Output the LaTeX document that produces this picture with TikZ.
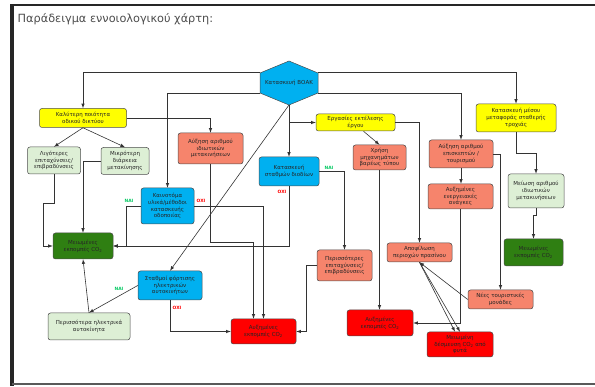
\documentclass[tikz,border=0pt]{standalone}
\usepackage{fontspec}
\setmainfont{DejaVu Sans}
\usepackage{tikz}
\usetikzlibrary{shapes}

\definecolor{kitrino}{HTML}{FFFF00}
\definecolor{anoixto}{HTML}{DDEFD5}
\definecolor{solomos}{HTML}{F6846C}
\definecolor{kokkino}{HTML}{FF0000}
\definecolor{skouro}{HTML}{2F7F12}
\definecolor{galazio}{HTML}{00B0F0}
\definecolor{naicol}{HTML}{00C860}

\begin{document}
\begin{tikzpicture}[x=1pt,y=-1pt,>=latex]
		\tikzstyle{every node}+=[inner sep=0.5pt, align=center, text=black!85, font=\fontsize{5.5}{6.8}\selectfont]
		\tikzstyle{box}=[draw=black!70, line width=0.5pt, rounded corners=2.5pt]
		\tikzstyle{yel}=[box, fill=kitrino]
		\tikzstyle{lgreen}=[box, fill=anoixto]
		\tikzstyle{salmon}=[box, fill=solomos]
		\tikzstyle{red}=[box, fill=kokkino]
		\tikzstyle{dgreen}=[box, fill=skouro]
		\tikzstyle{blue}=[box, fill=galazio]
		\tikzstyle{conn}=[->, draw=black!80, line width=0.6pt]
		\tikzstyle{nai}=[text=naicol, font=\fontsize{4.4}{5}\selectfont\bfseries]
		\tikzstyle{oxi}=[text=kokkino, font=\fontsize{4.4}{5}\selectfont\bfseries]
		\useasboundingbox (0,0) rectangle (595,387);
		\draw [black!85, line width=4pt] (12,386) -- (12,5);
		\draw [black!85, line width=2.5pt] (10,5) -- (595,5);
		\draw [black!65, line width=2pt] (12,384.5) -- (595,384.5);
		\node [anchor=west, text=black!70, font=\fontsize{11.3}{13}\selectfont] (title) at (17,19) {Παράδειγμα εννοιολογικού χάρτη:};
		\draw [draw=black!70, line width=0.5pt, fill=galazio] (260,73) -- (289,61) -- (318,73) -- (318,93) -- (289,105) -- (260,93) -- cycle;
		\node [minimum width=58pt, minimum height=20pt] (boac) at (289,83) {Κατασκευή ΒΟΑΚ};
		\coordinate (boacbot) at (289,105);
		\node [yel, minimum width=87pt, minimum height=19pt] (kal) at (83,118) {Καλύτερη ποιότητα\\οδικού δικτύου};
		\node [lgreen, minimum width=53pt, minimum height=27pt] (ligo) at (54,160.5) {Λιγότερες\\επιταχύνσεις/\\επιβραδύνσεις};
		\node [lgreen, minimum width=48pt, minimum height=27pt] (mikr) at (125,161) {Μικρότερη\\διάρκεια\\μετακίνησης};
		\node [salmon, minimum width=65pt, minimum height=31pt] (idiot) at (210.5,148.5) {Αύξηση αριθμού\\ιδιωτικών\\μετακινήσεων};
		\node [blue, minimum width=53pt, minimum height=36pt] (kain) at (167.5,206) {Καινοτόμα\\υλικά/μέθοδοι\\κατασκευής\\οδοποιίας};
		\node [dgreen, minimum width=60pt, minimum height=26pt] (meiL) at (83,246) {Μειωμένες\\εκπομπές CO\textsubscript{2}};
		\node [blue, minimum width=60pt, minimum height=29pt] (diod) at (289,171.5) {Κατασκευή\\σταθμών διοδίων};
		\node [yel, minimum width=79pt, minimum height=17pt] (erg) at (355.5,122.5) {Εργασίες εκτέλεσης\\έργου};
		\node [salmon, minimum width=53pt, minimum height=25pt] (xrisi) at (379.5,157.5) {Χρήση\\μηχανημάτων\\βαρέως τύπου};
		\node [salmon, minimum width=64pt, minimum height=28pt] (episk) at (461,154) {Αύξηση αριθμού\\επισκεπτών /\\τουρισμού};
		\node [yel, minimum width=80pt, minimum height=28pt] (mesou) at (516,118) {Κατασκευή μέσου\\μεταφοράς σταθερής\\τροχιάς};
		\node [lgreen, minimum width=56pt, minimum height=34pt] (meiosi) at (536,191) {Μείωση αριθμού\\ιδιωτικών\\μετακινήσεων};
		\node [salmon, minimum width=65pt, minimum height=25pt] (energ) at (460.5,196.5) {Αυξημένες\\ενεργειακές\\ανάγκες};
		\node [dgreen, minimum width=59pt, minimum height=27pt] (meiR) at (533.5,252.5) {Μειωμένες\\εκπομπές CO\textsubscript{2}};
		\node [salmon, minimum width=65pt, minimum height=19pt] (apops) at (419.5,252.5) {Αποψίλωση\\περιοχών πρασίνου};
		\node [salmon, minimum width=55pt, minimum height=31pt] (peris) at (344.5,265.5) {Περισσότερες\\επιταχύνσεις/\\επιβραδύνσεις};
		\node [salmon, minimum width=65pt, minimum height=19pt] (nees) at (500.5,299.5) {Νέες τουριστικές\\μονάδες};
		\node [red, minimum width=66pt, minimum height=26pt] (auxR) at (380,323) {Αυξημένες\\εκπομπές CO\textsubscript{2}};
		\node [red, minimum width=66pt, minimum height=25pt] (desm) at (460,344.5) {Μειωμένη\\δέσμευση CO\textsubscript{2} από\\φυτά};
		\node [red, minimum width=65pt, minimum height=25pt] (auxC) at (263.5,331.5) {Αυξημένες\\εκπομπές CO\textsubscript{2}};
		\node [blue, minimum width=64pt, minimum height=29pt] (fort) at (170,285.5) {Σταθμοί φόρτισης\\ηλεκτρικών\\αυτοκινήτων};
		\node [lgreen, minimum width=82pt, minimum height=27pt] (ilek) at (89,326.5) {Περισσότερα ηλεκτρικά\\αυτοκίνητα};
		\draw [conn] (boac.north west) -| (kal);
		\draw [conn] (boac.south west) -| (kain);
		\draw [conn] (boac.north east) -| (mesou);
		\draw [conn] (boac.south east) -| (episk);
		\draw [conn] (boacbot) -- (diod);
		\draw [conn] (boacbot) |- (erg);
		\draw [conn] (boacbot) -- (fort.north);
		\draw [conn] (kal.south) -- (ligo.north);
		\draw [conn] (kal.south) -- (mikr.north);
		\draw [conn] (kal.east) -| (idiot);
		\draw [conn] (ligo.south) -- ++(0,29) -- ++(-11,0) |- (meiL.west);
		\draw [conn] (mikr.west) -| (meiL.north);
		\draw [conn] (kain.west) -- ++(-14,0) |- (meiL.east);
		\draw [conn] (kain.east) -| (auxC.north);
		\draw [conn] (idiot.south) -- ++(0,78) -| ([xshift=-10pt]auxC.north);
		\draw [conn] (diod.south) |- (meiL.east);
		\draw [conn] (diod.east) -| (peris.north);
		\draw [conn] ([xshift=8pt]erg.south) -- (xrisi.north);
		\draw [conn] (erg.east) -| (apops.north);
		\draw [conn] (xrisi.south) -- (xrisi.south |- auxR.north);
		\draw [conn] (episk.south) -- (episk.south |- energ.north);
		\draw [conn] (episk.east) -| (nees.north);
		\draw [conn] (energ.south) |- (auxR.east);
		\draw [conn] (mesou.south) -- ++(0,21) -| (meiosi.north);
		\draw [conn] (meiosi.south) -- ++(0,7) -| (meiR.north);
		\draw [conn] (peris.west) -- ++(-10,0) |- (auxC.east);
		\draw [conn] (fort.west) -- (ilek.north);
		\draw [conn] (fort.south) |- (auxC.west);
		\draw [conn] (ilek.north) -- (meiL.south);
		\draw [conn] (nees.west) -- (apops.south);
		\draw [conn] (apops.south) -- ([xshift=-5pt]desm.north);
		\draw [conn] (apops.south) -- (desm.north);
		\node [nai] (naikain) at (129,201) {ΝΑΙ};
		\node [oxi] (oxikain) at (201,201) {ΟΧΙ};
		\node [nai] (naidiod) at (329,168) {ΝΑΙ};
		\node [oxi] (oxidiod) at (282,192) {ΟΧΙ};
		\node [nai] (naifort) at (119,289) {ΝΑΙ};
		\node [oxi] (oxifort) at (177,308) {ΟΧΙ};
\end{tikzpicture}
\end{document}
